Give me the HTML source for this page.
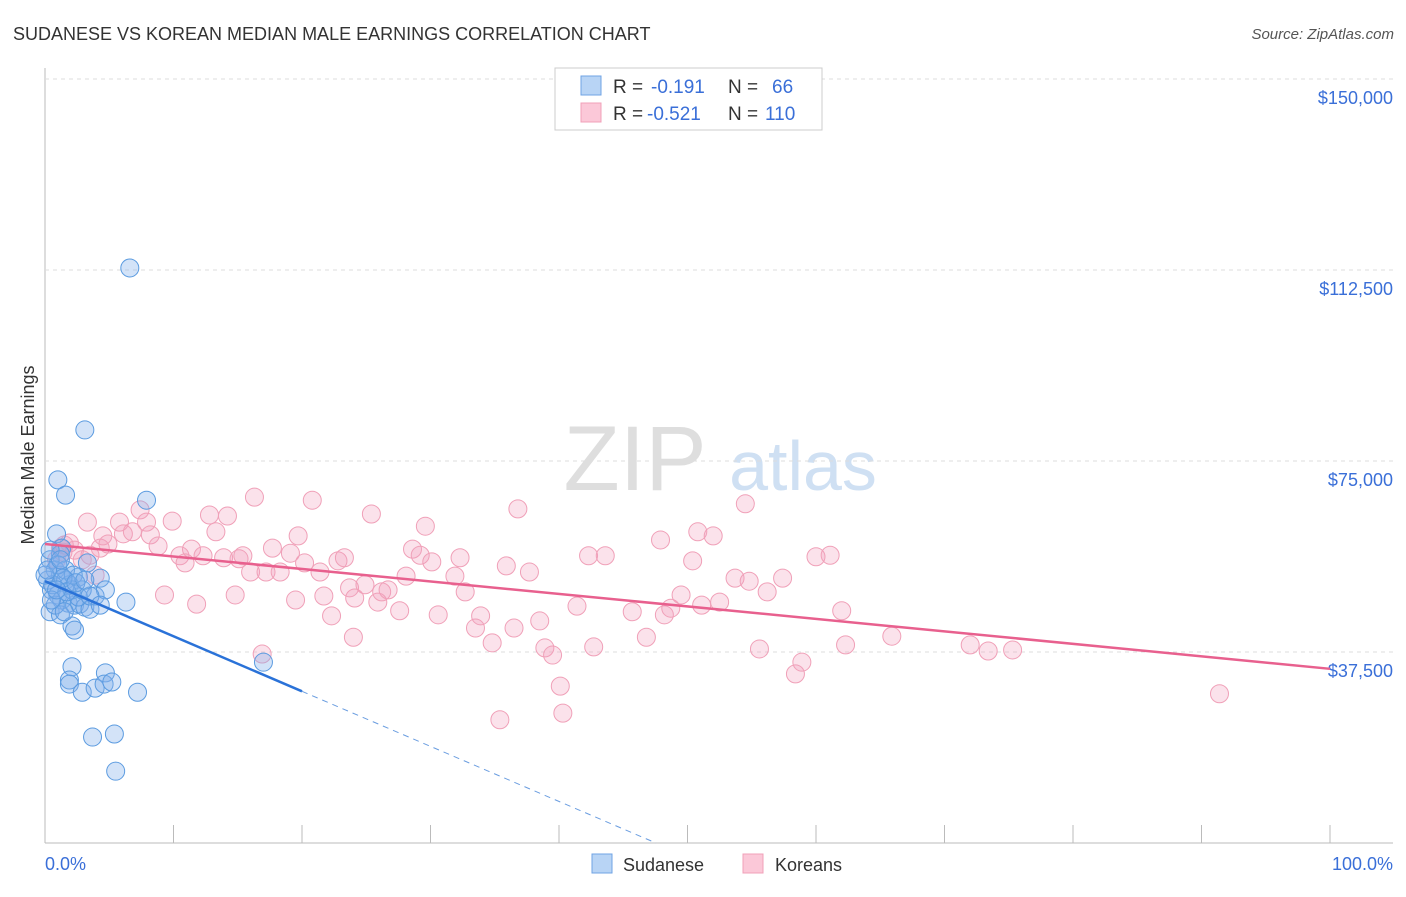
<!DOCTYPE html>
<html><head><meta charset="utf-8"><style>
body{margin:0;background:#fff;font-family:"Liberation Sans",sans-serif}
svg text{font-family:"Liberation Sans",sans-serif}
</style></head><body>
<svg id="c" width="1406" height="892" viewBox="0 0 1406 892">
<text x="13" y="40" font-size="18" fill="#333">SUDANESE VS KOREAN MEDIAN MALE EARNINGS CORRELATION CHART</text>
<text x="1394" y="39" font-size="15" fill="#555" font-style="italic" text-anchor="end">Source: ZipAtlas.com</text>
<text x="635" y="490" font-size="92" fill="#dedede" font-family="Liberation Serif" text-anchor="middle">ZIP</text>
<text x="803" y="490" font-size="70" fill="#cfe0f3" text-anchor="middle">atlas</text>
<text transform="translate(34,455) rotate(-90)" font-size="18" fill="#333" text-anchor="middle">Median Male Earnings</text>
<g id="grid"></g><g id="pts"></g><g id="lines"></g>
<g>
<rect x="555" y="68" width="267" height="62" fill="#fff" stroke="#ccc"/>
<rect x="581" y="76" width="20" height="19" fill="#b8d4f5" stroke="#6fa3e4"/>
<rect x="581" y="103" width="20" height="19" fill="#fbc8d8" stroke="#f0a0b8"/>
<text x="613" y="93" font-size="19" fill="#333">R = <tspan x="651" fill="#3a6fd8">-0.191</tspan><tspan x="728">N = </tspan><tspan x="772" fill="#3a6fd8">66</tspan></text>
<text x="613" y="120" font-size="19" fill="#333">R = <tspan x="647" fill="#3a6fd8">-0.521</tspan><tspan x="728">N = </tspan><tspan x="765" fill="#3a6fd8">110</tspan></text>
</g>
<text x="45" y="870" font-size="18" fill="#3a6fd8">0.0%</text>
<text x="1393" y="870" font-size="18" fill="#3a6fd8" text-anchor="end">100.0%</text>
<rect x="592" y="854" width="20" height="19" fill="#b8d4f5" stroke="#6fa3e4"/>
<text x="623" y="871" font-size="18" fill="#333">Sudanese</text>
<rect x="743" y="854" width="20" height="19" fill="#fbc8d8" stroke="#f0a0b8"/>
<text x="775" y="871" font-size="18" fill="#333">Koreans</text>
</svg>
<script>
const yTicks=[37500,75000,112500,150000];
const yTickLabels=["$37,500","$75,000","$112,500","$150,000"];
const xTicks=[0,10,20,30,40,50,60,70,80,90,100];
const korX=[1.2,1.5,1.9,3.3,3.9,4.3,4.5,4.9,5.8,6.1,6.8,7.4,7.9,8.2,8.8,9.3,9.9,10.5,10.9,11.4,11.8,12.3,12.8,13.3,13.9,14.2,14.8,15.1,15.4,16.0,16.3,16.9,17.2,17.7,18.3,19.1,19.5,19.7,20.2,20.8,21.4,21.7,22.3,22.8,23.3,23.7,24.0,24.1,24.9,25.4,25.9,26.2,26.7,27.6,28.1,28.6,29.2,29.6,30.1,30.6,31.9,32.3,32.7,33.5,33.9,34.8,35.4,35.9,36.5,36.8,37.7,38.5,38.9,39.5,40.1,40.3,41.4,42.3,42.7,43.6,45.7,46.8,47.9,48.2,48.7,49.5,50.4,50.8,51.1,52.0,52.5,53.7,54.5,54.8,55.6,56.2,57.4,58.4,58.9,60.0,61.1,62.0,62.3,65.9,72.0,73.4,75.3,91.4,2.9,3.5,0.9,1.4,2.3];
const korY=[57.9,58.5,58.9,63.0,52.6,57.9,60.3,58.7,63.0,60.7,61.1,65.4,63.0,60.5,58.3,48.7,63.2,56.4,55.0,57.7,46.9,56.4,64.4,61.1,56.0,64.2,48.7,55.8,56.4,53.2,67.9,37.1,53.2,57.9,53.2,56.9,47.7,60.3,55.0,67.3,53.2,48.5,44.6,55.4,56.0,50.1,40.4,48.1,50.7,64.6,47.3,49.3,49.7,45.6,52.4,57.7,56.5,62.2,55.2,44.8,52.4,56.0,49.3,42.2,44.6,39.3,24.2,54.4,42.2,65.6,53.2,43.6,38.3,36.9,30.8,25.5,46.5,56.4,38.5,56.4,45.4,40.4,59.5,44.8,46.1,48.7,55.4,61.1,46.7,60.3,47.3,52.0,66.6,51.4,38.1,49.3,52.0,33.2,35.5,56.2,56.5,45.6,38.9,40.6,38.9,37.7,37.9,29.3,55.6,56.5,55.6,57.1,57.5];
const sudX=[6.6,3.1,1.0,1.6,7.9,0.9,1.3,1.2,3.3,2.6,0.4,0.8,1.2,1.6,1.9,0.5,1.0,1.3,1.8,2.3,2.7,3.1,3.5,0.4,1.2,2.1,2.3,6.3,3.9,4.3,4.7,0.2,0.6,1.6,2.1,2.6,0.8,1.5,2.2,2.9,3.5,4.3,17.0,2.1,4.7,1.9,1.9,2.9,3.9,4.6,5.2,7.2,3.7,5.4,5.5,0.4,1.0,1.4,1.7,2.4,3.1,0,0.2,0.5,0.9,1.2];
const sudY=[112.9,81.1,71.3,68.3,67.3,60.7,57.9,56.7,55.0,52.2,55.6,53.6,52.6,51.6,50.7,49.7,48.7,47.7,47.1,46.7,46.9,46.3,45.9,45.4,44.8,42.6,41.8,47.3,48.5,52.0,49.7,51.6,50.7,53.6,49.7,48.3,46.7,45.4,52.6,49.7,48.5,46.7,35.5,34.6,33.4,32.0,31.2,29.6,30.4,31.2,31.6,29.6,20.8,21.4,14.1,57.5,54.6,52.0,49.3,51.1,51.6,52.6,53.6,47.7,49.7,55.6];
const korTrend=[58.7,34.2]; // $k at 0% and 100%
const sudTrend=[51.4,-1.081]; // $k at 0%, slope per %
const sudSolidEnd=20;

const NS="http://www.w3.org/2000/svg";
const X=p=>45+p*12.85;
const Y=v=>843-v*1000*(764/150000);
function mk(t,a,parent){const e=document.createElementNS(NS,t);for(const k in a)e.setAttribute(k,a[k]);document.getElementById(parent).appendChild(e);return e;}
let e=mk('line',{x1:45,y1:68,x2:45,y2:843,stroke:'#bbb'},'grid');


e=mk('line',{x1:45,y1:843,x2:1393,y2:843,stroke:'#bbb'},'grid');


yTicks.forEach((t,i)=>{
  const g=mk('line',{x1:45,y1:Y(t/1000),x2:1393,y2:Y(t/1000),stroke:'#ddd','stroke-dasharray':'4,4'},'grid');
  
  
  const l=mk('text',{x:1393,y:Y(t/1000)+25,'font-size':18,fill:'#3a6fd8','text-anchor':'end'},'grid');
  l.textContent=yTickLabels[i];
  
  
});
xTicks.forEach(t=>{
  const k=mk('line',{x1:X(t),y1:825,x2:X(t),y2:843,stroke:'#bbb'},'grid');
  
  
});
korX.forEach((x,i)=>{
  const c=mk('circle',{cx:X(x),cy:Y(korY[i]),r:9,fill:'rgba(243,160,190,0.3)',stroke:'#f0a0b8','stroke-width':1},'pts');
  
  
});
sudX.forEach((x,i)=>{
  const c=mk('circle',{cx:X(x),cy:Y(sudY[i]),r:9,fill:'rgba(130,175,235,0.35)',stroke:'#5b9be0','stroke-width':1},'pts');
  
  
});
e=mk('line',{x1:X(0),y1:Y(korTrend[0]),x2:X(100),y2:Y(korTrend[1]),stroke:'#e8608e','stroke-width':2.5},'lines');


const sEnd=sudTrend[0]+sudTrend[1]*sudSolidEnd, zeroX=-sudTrend[0]/sudTrend[1];
e=mk('line',{x1:X(0),y1:Y(sudTrend[0]),x2:X(sudSolidEnd),y2:Y(sEnd),stroke:'#2a72d8','stroke-width':2.5},'lines');


e=mk('line',{x1:X(sudSolidEnd),y1:Y(sEnd),x2:X(zeroX),y2:Y(0),stroke:'#6a9de0','stroke-width':1,'stroke-dasharray':'6,5'},'lines');


</script>
</body></html>
